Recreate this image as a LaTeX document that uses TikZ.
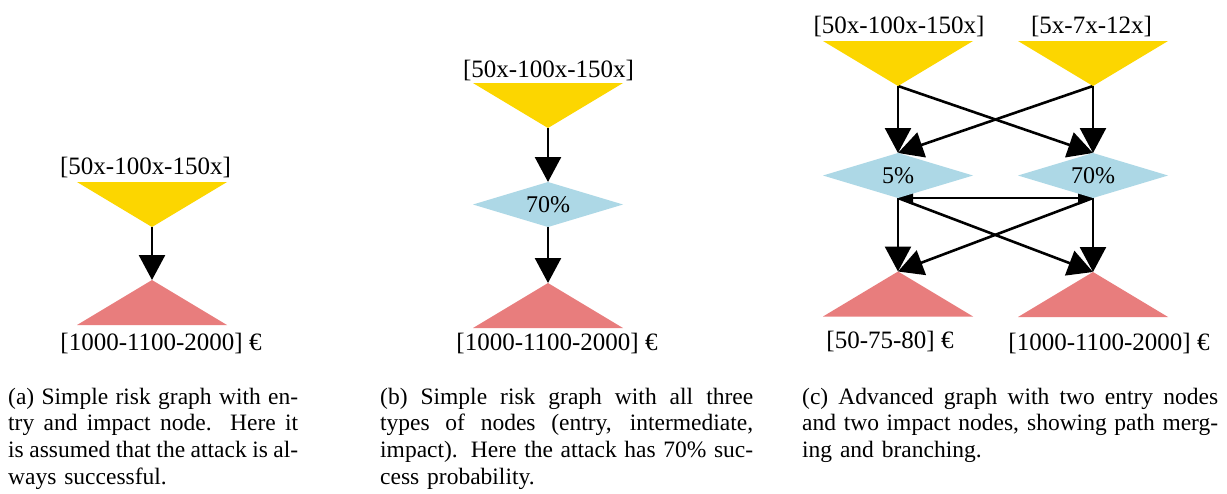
\documentclass[tikz,border=0pt]{standalone}
\usepackage{fontspec}
\setmainfont{Liberation Serif}
\usetikzlibrary{arrows.meta,shapes.geometric}

\definecolor{entryc}{RGB}{252,214,0}
\definecolor{impactc}{RGB}{232,125,125}
\definecolor{interc}{RGB}{173,216,230}

\pgfdeclarelayer{bg}
\pgfsetlayers{bg,main}

% a caption line stretched to a given width (font glue, not fixed spacing)
\newcommand{\fullline}[2]{\makebox[#1][s]{\spaceskip=0pt\xspaceskip=0pt #2}\\}

\tikzset{
  entry/.style={rectangle, inner sep=0pt, outer sep=0pt,
    minimum width=150pt, minimum height=45pt,
    path picture={\fill[entryc] (path picture bounding box.north west)
      -- (path picture bounding box.north east)
      -- (path picture bounding box.south) -- cycle;}},
  impact/.style={rectangle, inner sep=0pt, outer sep=0pt,
    minimum width=150pt, minimum height=45pt,
    path picture={\fill[impactc] (path picture bounding box.south west)
      -- (path picture bounding box.south east)
      -- (path picture bounding box.north) -- cycle;}},
  inter/.style={diamond, aspect=3.33, fill=interc, inner sep=0pt, outer sep=0pt,
    minimum width=150pt, minimum height=45pt,
    font=\fontsize{24}{28}\selectfont},
  lbl/.style={anchor=base, inner sep=0pt, font=\fontsize{25}{30}\selectfont},
  subcap/.style={anchor=base west, inner sep=0pt, align=left,
    font=\fontsize{23.5}{26.7}\selectfont},
  conn/.style={line width=2.6pt, -{Triangle[length=25pt,width=26pt]}},
  twoway/.style={line width=2.6pt,
    {Triangle[length=15pt,width=13pt]}-{Triangle[length=15pt,width=13pt]}},
}

\begin{document}
\begin{tikzpicture}[x=1pt, y=-1pt]
\useasboundingbox (0,0) rectangle (1227,493);

% (a) entry and impact only
\node[entry]  (ea) at (152,204.5) {};
\node[impact] (ia) at (152,302.5) {};
\node[lbl] (ea-l) at (145.5,174) {[50x-100x-150x]};
\node[lbl] (ia-l) at (161,350) {[1000-1100-2000] €};

% (b) entry, intermediate and impact
\node[entry]  (eb) at (548,105.5) {};
\node[inter]  (mb) at (548,204.5) {70\%};
\node[impact] (ib) at (548,305.5) {};
\node[lbl] (eb-l) at (548.5,77) {[50x-100x-150x]};
\node[lbl] (ib-l) at (557,350) {[1000-1100-2000] €};

% (c) two entries, two intermediates, two impacts
\node[entry]  (e1) at (898,63.5) {};
\node[entry]  (e2) at (1093,63.5) {};
\node[inter]  (m1) at (898,175.5) {5\%};
\node[inter]  (m2) at (1093,175.5) {70\%};
\node[impact] (i1) at (898,294) {};
\node[impact] (i2) at (1093,294.5) {};
\node[lbl] (e1-l) at (899,33) {[50x-100x-150x]};
\node[lbl] (e2-l) at (1091.5,33) {[5x-7x-12x]};
\node[lbl] (i1-l) at (890,348) {[50-75-80] €};
\node[lbl] (i2-l) at (1109,350) {[1000-1100-2000] €};

% white page and connectors, both under the node shapes
\begin{pgfonlayer}{bg}
  \fill[white] (0,0) rectangle (1227,493);
  \draw[conn] (ea.south) -- (ia.north);
  \draw[conn] (eb.south) -- (mb.north);
  \draw[conn] (mb.south) -- (ib.north);
  \draw[conn] (e1.south) -- (m1.north);
  \draw[conn] (e1.south) -- (m2.north);
  \draw[conn] (e2.south) -- (m1.north);
  \draw[conn] (e2.south) -- (m2.north);
  \draw[twoway] (m1.south) -- (m2.south);
  \draw[conn] (m1.south) -- (i1.north);
  \draw[conn] (m1.south) -- (i2.north);
  \draw[conn] (m2.south) -- (i1.north);
  \draw[conn] (m2.south) -- (i2.north);
\end{pgfonlayer}

% sub-captions
\node[subcap, text width=290pt] (cap-a) at (8,404)
  {\fullline{290pt}{(a) Simple risk graph with en-}%
   \fullline{290pt}{try and impact node.\ \ Here it}%
   \fullline{290pt}{is assumed that the attack is al-}%
   ways successful.};
\node[subcap, text width=373pt] (cap-b) at (380,404)
  {\fullline{373pt}{(b) Simple risk graph with all three}%
   \fullline{373pt}{types of nodes (entry, intermediate,}%
   \fullline{373pt}{impact). Here the attack has 70\% suc-}%
   cess probability.};
\node[subcap, text width=416pt] (cap-c) at (802,404)
  {\fullline{416pt}{(c) Advanced graph with two entry nodes}%
   \fullline{416pt}{and two impact nodes, showing path merg-}%
   ing and branching.};
\end{tikzpicture}
\end{document}
